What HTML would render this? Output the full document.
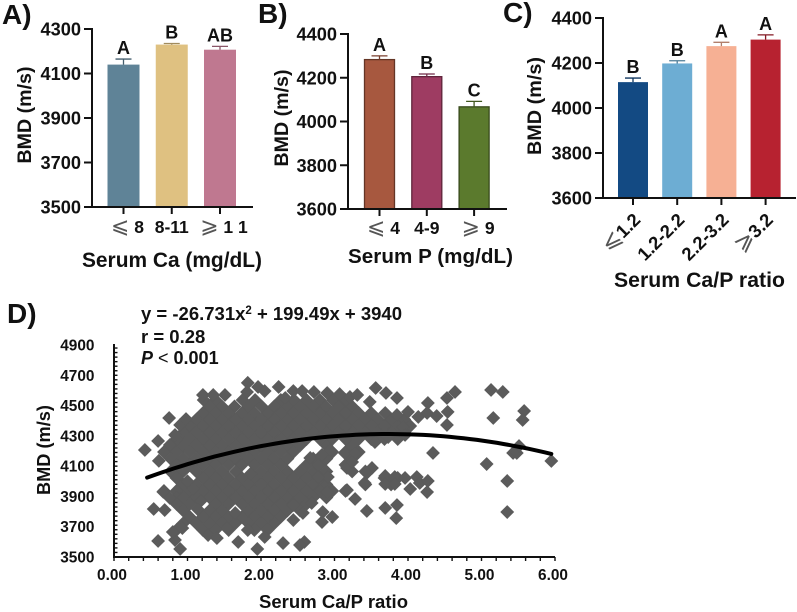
<!DOCTYPE html>
<html lang="en">
<head>
<meta charset="utf-8">
<title>BMD by serum calcium and phosphorus</title>
<style>
  html, body { margin: 0; padding: 0; background: #fff; }
  svg { display: block; }
  text { font-family: "Liberation Sans", "DejaVu Sans", sans-serif; font-weight: bold; fill: #111; }
</style>
</head>
<body>
<svg id="figure" xmlns="http://www.w3.org/2000/svg" width="797" height="612" viewBox="0 0 797 612">
  <rect width="797" height="612" fill="#fff"/>
  <text x="2" y="24" font-size="28">A)</text>
  <text x="258" y="23" font-size="28">B)</text>
  <text x="503" y="22" font-size="28">C)</text>
  <text x="7" y="323" font-size="28">D)</text>

  <text transform="translate(31,115) rotate(-90)" text-anchor="middle" font-size="19.6" textLength="97">BMD (m/s)</text>
  <text transform="translate(288,118) rotate(-90)" text-anchor="middle" font-size="19.6" textLength="97">BMD (m/s)</text>
  <text transform="translate(541,106) rotate(-90)" text-anchor="middle" font-size="19.8" textLength="98">BMD (m/s)</text>
  <text transform="translate(50,450) rotate(-90)" text-anchor="middle" font-size="18.2" textLength="90">BMD (m/s)</text>

  <text x="82" y="267" font-size="20.9" textLength="180">Serum Ca (mg/dL)</text>
  <text x="348" y="263" font-size="20.6" textLength="165">Serum P (mg/dL)</text>
  <text x="614" y="287" font-size="21.2" textLength="171">Serum Ca/P ratio</text>
  <text x="259" y="608" font-size="18.5" textLength="149">Serum Ca/P ratio</text>

  <g id="panels"></g>

  <text x="141" y="320" font-size="18.5">y = -26.731x<tspan dy="-6" font-size="11.5">2</tspan><tspan dy="6"> + 199.49x + 3940</tspan></text>
  <text x="141" y="343" font-size="18.5">r = 0.28</text>
  <text x="141" y="364" font-size="18"><tspan font-style="italic">P</tspan><tspan font-weight="normal"> &lt; </tspan>0.001</text>
</svg>
<script>
// Panel A
const caCategories = ['⩽ 8', '8-11', '⩾ 1 1'];
const caMeans = [4140, 4230, 4207];
const caUpperErrors = [4165, 4235, 4222];
const caLetters = ['A', 'B', 'AB'];
const caTicks = [3500, 3700, 3900, 4100, 4300];
const caColors = ['#5f8397', '#dfc181', '#bf7890'];

// Panel B
const pCategories = ['⩽ 4', '4-9', '⩾ 9'];
const pMeans = [4283, 4205, 4067];
const pUpperErrors = [4300, 4217, 4092];
const pLetters = ['A', 'B', 'C'];
const pTicks = [3600, 3800, 4000, 4200, 4400];
const pColors = ['#a7583f', '#9e3c62', '#5b7a2d'];

// Panel C
const ratioCategories = ['⩽1.2', '1.2-2.2', '2.2-3.2', '⩾3.2'];
const ratioMeans = [4115, 4198, 4275, 4304];
const ratioUpperErrors = [4133, 4210, 4292, 4325];
const ratioLetters = ['B', 'B', 'A', 'A'];
const ratioTicks = [3600, 3800, 4000, 4200, 4400];
const ratioColors = ['#134a83', '#6dadd3', '#f6b094', '#b72230'];

// Panel D
const scatterXTicks = [0, 1, 2, 3, 4, 5, 6];
const scatterYTicks = [3500, 3700, 3900, 4100, 4300, 4500, 4700, 4900];
const trendCoefficients = [-26.731, 199.49, 3940];
const trendRange = [0.45, 5.95];

// Dense cloud: BMD level, then the ratios sitting at that level.
const cloudLevels = [4537, 4494, 4451, 4408, 4365, 4322, 4279, 4236, 4193, 4150, 4108, 4065, 4022, 3979, 3936, 3893, 3850, 3807, 3765, 3722, 3678];
const cloudRatios = [
  [1.22,1.38,1.75,1.92,2.27,2.45,2.62,2.80,2.98,3.15],
  [1.30,1.47,1.64,1.83,2.01,2.18,2.36,2.53,2.71,2.88,3.06,3.24],
  [1.21,1.38,1.56,1.74,1.91,2.09,2.27,2.44,2.62,2.80,2.97,3.15,3.33,3.50],
  [1.12,1.30,1.47,1.65,1.83,2.00,2.18,2.36,2.53,2.71,2.89,3.06,3.24,3.42,3.59,3.77,3.95],
  [1.03,1.21,1.38,1.56,1.74,1.91,2.09,2.27,2.44,2.62,2.80,2.97,3.15,3.33,3.50,3.68,3.86,4.03],
  [0.94,1.12,1.30,1.47,1.65,1.83,2.00,2.18,2.36,2.53,2.71,2.89,3.06,3.24,3.42,3.59,3.77,3.95],
  [0.85,1.03,1.21,1.38,1.56,1.74,1.91,2.09,2.27,2.44,2.62,2.80,2.97,3.15,3.33,3.50,3.68,3.86],
  [0.77,0.94,1.12,1.30,1.47,1.65,1.83,2.00,2.18,2.36,2.53,2.89,3.24],
  [0.68,0.85,1.03,1.21,1.38,1.56,1.74,1.91,2.09,2.27,2.44,2.97,3.15,3.33],
  [0.77,0.94,1.12,1.30,1.47,1.65,1.83,2.00,2.18,2.36,2.71,2.89,3.24],
  [0.85,1.03,1.21,1.38,1.56,1.74,1.91,2.09,2.27,2.62,2.80,3.15],
  [0.77,0.94,1.12,1.30,1.47,1.66,2.00,2.18,2.36,2.53,2.71,2.89,3.24,3.42],
  [0.85,1.21,1.38,1.56,1.74,1.91,2.09,2.27,2.44,2.62,2.80,3.68,3.86],
  [0.94,1.12,1.30,1.47,1.65,1.83,2.00,2.18,2.36,2.53,2.71,2.89,3.42,3.77],
  [0.68,0.85,1.03,1.21,1.38,1.56,1.74,1.91,2.09,2.27,2.44,2.62,2.80,2.97,3.15],
  [0.85,0.94,1.12,1.30,1.47,1.65,1.83,2.00,2.18,2.36,2.53,2.71,2.89],
  [0.85,1.03,1.38,1.56,1.74,1.91,2.09,2.27,2.44,2.62],
  [0.94,1.30,1.47,1.83,2.00,2.18,2.36,2.53],
  [1.03,1.21,1.38,1.56,1.74,1.91,2.09,2.27],
  [0.94,1.12,1.30,1.47,1.65,1.83,2.00,2.18],
  [0.85,1.21,1.38,1.56,1.91,2.09]
];

// Edge points and outliers as [ratio, BMD].
const edgePoints = [
  [0.42,4207],[0.75,4418],[0.60,3606],[0.54,3817],[0.69,3810],[0.67,3930],[0.61,4135],[0.60,4266],[0.83,4306],[0.76,4240],
  [0.90,4372],[0.98,4411],[1.21,4570],[1.35,4570],[1.51,4570],[1.82,4650],[1.81,4590],[1.96,4623],[2.05,4596],[2.24,4623],
  [2.44,4596],[2.56,4596],[2.72,4590],[2.90,4583],[3.07,4576],[3.21,4557],[3.31,4570],[2.33,4550],[3.56,4616],[3.70,4583],
  [3.85,4550],[3.48,4524],[4.27,4517],[4.64,4590],[4.53,4550],[5.13,4603],[5.29,4590],[5.16,4418],[5.58,4464],[5.56,4405],
  [4.54,4458],[4.39,4431],[4.53,4372],[4.26,4451],[4.14,4425],[4.00,4458],[3.85,4438],[3.69,4451],[3.93,4358],[3.96,4306],
  [3.55,4259],[3.73,4292],[4.34,4187],[5.07,4114],[5.43,4187],[5.48,4187],[5.51,4233],[5.95,4134],[5.35,4002],[5.35,3797],
  [3.51,4088],[3.44,4055],[3.41,3989],[3.69,4035],[3.69,3982],[3.82,4028],[3.82,3982],[3.96,4022],[4.12,4028],[4.03,3949],
  [4.16,3989],[4.27,4002],[4.26,3929],[3.17,4088],[3.14,4187],[3.28,4187],[3.24,4127],[3.17,3942],[3.28,3883],[3.44,3804],
  [3.69,3824],[3.85,3843],[3.84,3757],[2.90,3929],[2.84,3797],[2.97,3764],[2.83,3731],[2.91,4028],[2.78,4028],[2.94,4207],
  [2.83,4174],[2.78,4107],[2.67,4154],[2.69,3857],[2.57,3791],[2.44,3744],[2.44,3843],[2.30,3592],[2.59,3599],[0.83,3612],
  [0.90,3553],[0.80,3665],[0.93,3691],[1.28,3645],[1.40,3625],[1.69,3599],[1.82,3678],[2.05,3632],[1.95,3553],[2.53,3579],
  [1.54,3691],[0.76,3890],[1.00,4000],[1.86,4050],[1.18,3870],[1.65,3790],[1.08,3950],[1.14,3815]
];

const NS = 'http://www.w3.org/2000/svg';
const root = document.getElementById('panels');

function make(tag, attrs, parent) {
  const node = document.createElementNS(NS, tag);
  for (const key in attrs) node.setAttribute(key, attrs[key]);
  parent.appendChild(node);
  return node;
}

function darken(hex) {
  const n = parseInt(hex.slice(1), 16);
  const c = [n >> 16, (n >> 8) & 255, n & 255].map(v => Math.round(v * 0.72));
  return 'rgb(' + c.join(',') + ')';
}

function darkEdge(hex) {
  const n = parseInt(hex.slice(1), 16);
  const c = [n >> 16, (n >> 8) & 255, n & 255].map(v => Math.round(v * 0.6));
  return 'rgb(' + c.join(',') + ')';
}

function addCategoryLabel(parent, label, x, y, rotated, size) {
  const isGlyph = label[0] === '⩽' || label[0] === '⩾';
  const attrs = { 'font-size': size };
  if (rotated) {
    attrs.transform = 'translate(' + x + ',' + y + ') rotate(-45)';
    attrs['text-anchor'] = 'end';
  } else {
    attrs.x = x + (isGlyph ? 4 : 0);
    attrs.y = y;
    attrs['text-anchor'] = 'middle';
  }
  const text = make('text', attrs, parent);
  
  
  if (isGlyph) {
    const glyph = make('tspan', { 'font-family': '"DejaVu Sans", sans-serif', 'font-weight': 'normal', 'font-size': size * 1.25, fill: '#555' }, text);
    glyph.textContent = label[0];
    const rest = make('tspan', {}, text);
    rest.textContent = label.slice(1);
  } else {
    text.textContent = label;
  }
}

function drawBarPanel(name, layout, categories, means, uppers, letters, ticks, colors) {
  const g = make('g', {}, root);
  
  
  const yMin = ticks[0];
  const yMax = ticks[ticks.length - 1];
  const y = v => layout.yBottom - (v - yMin) / (yMax - yMin) * (layout.yBottom - layout.yTop);
  const x = i => layout.firstCenter + i * layout.step;

  means.forEach((mean, i) => {
    const color = colors[i];
    const bar = make('rect', {
      x: x(i) - layout.barWidth / 2, y: y(mean), width: layout.barWidth, height: y(yMin) - y(mean),
      fill: color, stroke: layout.outlined ? darkEdge(color) : color, 'stroke-width': layout.outlined ? 1.3 : 0
    }, g);
    
    
    const errorPath = make('path', {
      d: 'M' + x(i) + ' ' + y(mean) + 'V' + y(uppers[i]) + 'M' + (x(i) - 8) + ' ' + y(uppers[i]) + 'H' + (x(i) + 8),
      stroke: darken(color), 'stroke-width': 1.3, fill: 'none'
    }, g);
    
    
    const letter = make('text', { x: x(i), y: y(uppers[i]) - 5, 'text-anchor': 'middle', 'font-size': 18 }, g);
    
    
    letter.textContent = letters[i];
  });

  const axisY = make('path', { d: 'M' + layout.xAxis + ' ' + (layout.yTop - 1) + 'V' + (layout.yBottom + 1), stroke: '#111', 'stroke-width': 2, fill: 'none' }, g);
  
  
  const axisX = make('path', { d: 'M' + (layout.xAxis - 8) + ' ' + layout.yBottom + 'H' + layout.xEnd, stroke: '#111', 'stroke-width': 2, fill: 'none' }, g);
  
  

  ticks.forEach(t => {
    const mark = make('path', { d: 'M' + (layout.xAxis - 8) + ' ' + y(t) + 'H' + layout.xAxis, stroke: '#111', 'stroke-width': 2 }, g);
    
    
    const label = make('text', { x: layout.xAxis - 11, y: y(t) + 6.5, 'text-anchor': 'end', 'font-size': 18.2 }, g);
    
    
    label.textContent = t;
  });

  categories.forEach((c, i) => {
    const mark = make('path', { d: 'M' + x(i) + ' ' + layout.yBottom + 'v7', stroke: '#111', 'stroke-width': 2 }, g);
    
    
    if (layout.rotated) addCategoryLabel(g, c, x(i) + 8.5, layout.labelY, true, 18.5);
    else addCategoryLabel(g, c, x(i), layout.labelY, false, 17.5);
  });
}

drawBarPanel('panel-a-chart', { xAxis: 92, xEnd: 253, yTop: 29, yBottom: 207, firstCenter: 123.5, step: 48.25, barWidth: 32, labelY: 233, outlined: false },
  caCategories, caMeans, caUpperErrors, caLetters, caTicks, caColors);
drawBarPanel('panel-b-chart', { xAxis: 348, xEnd: 507, yTop: 34, yBottom: 209, firstCenter: 379.5, step: 47.3, barWidth: 30, labelY: 234, outlined: true },
  pCategories, pMeans, pUpperErrors, pLetters, pTicks, pColors);
drawBarPanel('panel-c-chart', { xAxis: 603, xEnd: 796, yTop: 18, yBottom: 198, firstCenter: 633, step: 44.2, barWidth: 30, labelY: 221, outlined: false, rotated: true },
  ratioCategories, ratioMeans, ratioUpperErrors, ratioLetters, ratioTicks, ratioColors);

// Scatter panel
const scatterFrame = { left: 114, right: 555, top: 345, bottom: 557 };
const sx = v => scatterFrame.left + (v - scatterXTicks[0]) / (scatterXTicks[scatterXTicks.length - 1] - scatterXTicks[0]) * (scatterFrame.right - scatterFrame.left);
const sy = v => scatterFrame.bottom - (v - scatterYTicks[0]) / (scatterYTicks[scatterYTicks.length - 1] - scatterYTicks[0]) * (scatterFrame.bottom - scatterFrame.top);

const scatter = make('g', {}, root);



function drawPoint(ratio, bmd) {
  const r = 6.5;
  const px = sx(ratio);
  const py = sy(bmd);
  const point = make('path', {
    d: 'M' + px + ' ' + (py - r) + 'L' + (px + r) + ' ' + py + 'L' + px + ' ' + (py + r) + 'L' + (px - r) + ' ' + py + 'Z',
    fill: '#5b5b5b', stroke: '#5b5b5b', 'stroke-width': 0.6
  }, scatter);
  
  
}

cloudLevels.forEach((bmd, i) => cloudRatios[i].forEach(ratio => drawPoint(ratio, bmd)));
edgePoints.forEach(p => drawPoint(p[0], p[1]));

const trendSteps = 60;
let trendPath = '';
for (let i = 0; i <= trendSteps; i++) {
  const v = trendRange[0] + (trendRange[1] - trendRange[0]) * i / trendSteps;
  const fit = trendCoefficients[0] * v * v + trendCoefficients[1] * v + trendCoefficients[2];
  trendPath += (i ? 'L' : 'M') + sx(v).toFixed(1) + ' ' + sy(fit).toFixed(1);
}
const trend = make('path', { d: trendPath, fill: 'none', stroke: '#000', 'stroke-width': 4, 'stroke-linecap': 'round' }, scatter);



const scatterAxisY = make('path', { d: 'M' + scatterFrame.left + ' ' + (scatterFrame.top - 1) + 'V' + (scatterFrame.bottom + 1), stroke: '#111', 'stroke-width': 2, fill: 'none' }, scatter);


const scatterAxisX = make('path', { d: 'M' + (scatterFrame.left - 1) + ' ' + scatterFrame.bottom + 'H' + scatterFrame.right, stroke: '#111', 'stroke-width': 2, fill: 'none' }, scatter);



for (let v = 0; v <= 6.001; v += 0.2) {
  const mark = make('path', { d: 'M' + sx(v) + ' ' + scatterFrame.bottom + 'v4', stroke: '#111', 'stroke-width': 1.4 }, scatter);
  
  
}
for (let v = 3500; v <= 4900; v += 30) {
  const mark = make('path', { d: 'M' + scatterFrame.left + ' ' + sy(v) + 'h3.5', stroke: '#111', 'stroke-width': 1.4 }, scatter);
  
  
}
scatterXTicks.forEach(t => {
  const label = make('text', { x: sx(t) - 2, y: 580, 'text-anchor': 'middle', 'font-size': 15.4 }, scatter);
  
  
  label.textContent = t.toFixed(2);
});
scatterYTicks.forEach(t => {
  const label = make('text', { x: 94.5, y: sy(t) + 5.5, 'text-anchor': 'end', 'font-size': 15.4 }, scatter);
  
  
  label.textContent = t;
});
</script>
</body>
</html>
